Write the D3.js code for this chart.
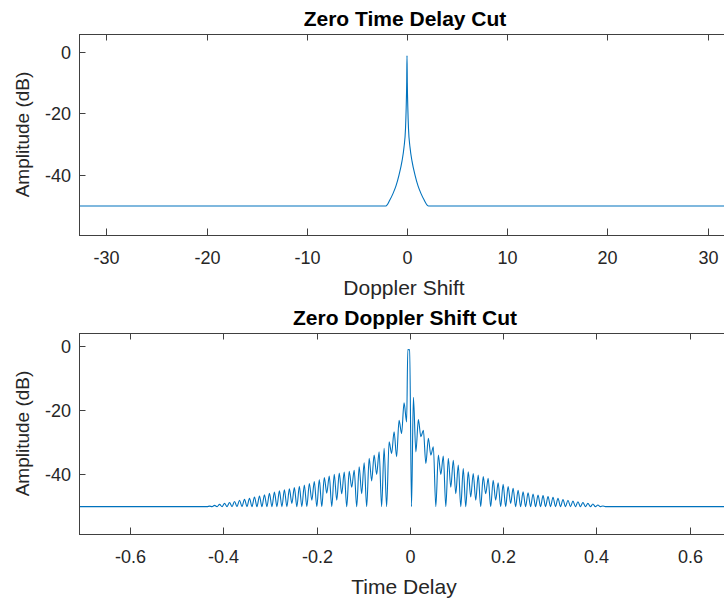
<!DOCTYPE html>
<html>
<head>
<meta charset="utf-8">
<script src="https://cdn.jsdelivr.net/npm/d3@7"></script>
<style>
  body { margin: 0; background: #fff; }
  svg { display: block; font-family: "Liberation Sans", Arial, Helvetica, sans-serif; }
</style>
</head>
<body>
<script>
let dopplerTicks = [-30, -20, -10, 0, 10, 20, 30]
let dopplerTickLabels = ['-30', '-20', '-10', '0', '10', '20', '30']
let delayTicks = [-0.6, -0.4, -0.2, 0, 0.2, 0.4, 0.6]
let delayTickLabels = ['-0.6', '-0.4', '-0.2', '0', '0.2', '0.4', '0.6']
let ampTicks = [0, -20, -40]
let ampTickLabels = ['0', '-20', '-40']

// zero time delay cut
let dopplerShift = [-33, -2.1, -1.7, -1.4, -1.1, -0.8, -0.5, -0.3, -0.15, -0.08, -0.03, 0,
  0.03, 0.08, 0.15, 0.3, 0.5, 0.8, 1.1, 1.4, 1.7, 2.15, 33]
let dopplerAmp = [-50, -50, -48, -46, -43.5, -40, -35.5, -31, -25, -18, -10, -1.3,
  -10, -18, -25, -31, -35.5, -40, -43.5, -46, -48, -50, -50]

// zero doppler shift cut
let delayEnds = [-0.72, 0.72]
let delayMainT = [-0.007, -0.0045, -0.0005, 0.0035]
let delayMainAmp = [-23.7, -1.2, -1.3, -50]
let delayLobeStep = 0.0107
let delayLeftPeaks = [-17.8, -23.2, -26.8, -29.9, -31.9, -33.0, -34.0, -35.0, -36.4, -37.6, -38.7,
  -39.0, -39.3, -39.6, -40.0, -40.5, -41.0, -41.6, -42.2, -42.8, -43.3, -43.7, -44.1, -44.5,
  -44.8, -45.1, -45.5, -45.9, -46.3, -46.7, -47.0, -47.4, -47.7, -48.0, -48.4, -48.7, -49.0,
  -49.3, -49.6, -49.85]
let delayLeftTroughs = [-27.3, -34.5, -33.5, -50, -50, -40, -42, -50, -46, -50, -44, -50, -46,
  -48, -50, -45.8, -50, -50, -48, -50, -50, -50, -49, -50, -50, -50, -50, -50, -50, -50,
  -50, -50, -50, -50, -50, -50, -50, -50, -50, -50]
let delayRightPeaks = [-16.1, -23.0, -26.3, -28.8, -31.4, -34.0, -34.3, -35.0, -35.6, -37.1,
  -38.2, -39.2, -39.7, -40.2, -40.7, -41.2, -41.8, -42.6, -43.1, -43.8, -44.3, -44.9, -45.4,
  -45.7, -46.1, -46.4, -46.6, -46.9, -47.1, -47.4, -47.8, -48.0, -48.3, -48.5, -48.7, -49.0,
  -49.2, -49.5, -49.8]
let delayRightTroughs = [-33, -28.3, -36.6, -34, -50, -40, -50, -44, -46, -50, -50, -47, -48,
  -50, -46, -50, -48, -50, -50, -49, -50, -50, -50, -50, -50, -50, -50, -50, -50, -50,
  -50, -50, -50, -50, -50, -50, -50, -50, -50]

let width = 724
let height = 598

function delaySeries() {
  let pts = [{ x: delayEnds[0], y: -50 }]
  for (let k = delayLeftPeaks.length - 1; k >= 0; k--) {
    let tp = -0.0125 - k * delayLobeStep
    pts.push({ x: tp - delayLobeStep / 2, y: delayLeftTroughs[k] })
    pts.push({ x: tp, y: delayLeftPeaks[k] })
  }
  delayMainT.forEach((t, i) => pts.push({ x: t, y: delayMainAmp[i] }))
  for (let k = 0; k < delayRightPeaks.length; k++) {
    let tp = 0.0075 + k * delayLobeStep
    pts.push({ x: tp, y: delayRightPeaks[k] })
    pts.push({ x: tp + delayLobeStep / 2, y: delayRightTroughs[k] })
  }
  pts.push({ x: delayEnds[1], y: -50 })
  return pts
}

const svg = d3.select('body').append('svg')
    .attr('width', width)
    .attr('height', height)
    .attr('viewBox', [0, 0, width, height])

svg.append('rect').attr('width', width).attr('height', height).attr('fill', '#fff')

function panel(cfg) {
  let left = 79, right = 731
  let x = d3.scaleLinear().domain(cfg.xDomain).range([left, right])
  let y = d3.scaleLinear().domain(cfg.yDomain).range([cfg.bottom, cfg.top])
  let axisColor = '#404040', textColor = '#262626', tick = 6.5

  let g = svg.append('g')

  g.append('clipPath').attr('id', cfg.id)
    .append('rect')
      .attr('x', left).attr('y', cfg.top)
      .attr('width', right - left).attr('height', cfg.bottom - cfg.top)

  let line = d3.line()
      .x(d => x(d.x))
      .y(d => y(d.y))
      .curve(d3.curveMonotoneX)

  g.append('path')
      .datum(cfg.data)
      .attr('clip-path', `url(#${cfg.id})`)
      .attr('fill', 'none')
      .attr('stroke', '#0072BD')
      .attr('stroke-width', 1.1)
      .attr('stroke-linejoin', 'round')
      .attr('d', line)

  g.append('rect')
      .attr('x', left + 0.5).attr('y', Math.round(cfg.top) + 0.5)
      .attr('width', right - left).attr('height', Math.round(cfg.bottom) - Math.round(cfg.top))
      .attr('fill', 'none')
      .attr('stroke', axisColor)
      .attr('stroke-width', 1)

  let xt = g.append('g').selectAll('g')
    .data(cfg.xTicks)
    .join('g')
      .attr('transform', d => `translate(${Math.round(x(d)) + 0.5},0)`)
  xt.append('line')
      .attr('y1', cfg.bottom).attr('y2', cfg.bottom - tick)
      .attr('stroke', axisColor)
  xt.append('line')
      .attr('y1', cfg.top).attr('y2', cfg.top + tick)
      .attr('stroke', axisColor)
  xt.append('text')
      .attr('y', cfg.bottom + 29)
      .attr('text-anchor', 'middle')
      .attr('fill', textColor)
      .style('font-size', '18px')
      .text((d, i) => cfg.xTickLabels[i])

  let yt = g.append('g').selectAll('g')
    .data(ampTicks)
    .join('g')
      .attr('transform', d => `translate(0,${Math.round(y(d)) + 0.5})`)
  yt.append('line')
      .attr('x1', left).attr('x2', left + tick)
      .attr('stroke', axisColor)
  yt.append('text')
      .attr('x', left - 8)
      .attr('dy', '0.35em')
      .attr('text-anchor', 'end')
      .attr('fill', textColor)
      .style('font-size', '18px')
      .text((d, i) => ampTickLabels[i])

  g.append('text')
      .text(cfg.title)
      .attr('x', 405)
      .attr('y', cfg.top - 8)
      .attr('text-anchor', 'middle')
      .attr('fill', '#000')
      .style('font-size', '21px')
      .style('font-weight', 'bold')

  g.append('text')
      .text(cfg.xLabel)
      .attr('x', 404)
      .attr('y', cfg.bottom + 60)
      .attr('text-anchor', 'middle')
      .attr('fill', textColor)
      .style('font-size', '21px')

  g.append('text')
      .text('Amplitude (dB)')
      .attr('transform', 'rotate(-90)')
      .attr('x', -(cfg.top + cfg.bottom) / 2)
      .attr('y', 29)
      .attr('text-anchor', 'middle')
      .attr('fill', textColor)
      .style('font-size', '19px')
}

panel({
  id: 'clip-top',
  top: 34, bottom: 235,
  xDomain: [-32.73, 32.33], yDomain: [-59.4, 5.7],
  xTicks: dopplerTicks, xTickLabels: dopplerTickLabels,
  title: 'Zero Time Delay Cut', xLabel: 'Doppler Shift',
  data: dopplerShift.map((s, i) => ({ x: s, y: dopplerAmp[i] }))
})

panel({
  id: 'clip-bottom',
  top: 333, bottom: 534,
  xDomain: [-0.710, 0.689], yDomain: [-58.5, 3.9],
  xTicks: delayTicks, xTickLabels: delayTickLabels,
  title: 'Zero Doppler Shift Cut', xLabel: 'Time Delay',
  data: delaySeries()
})
</script>
</body>
</html>
